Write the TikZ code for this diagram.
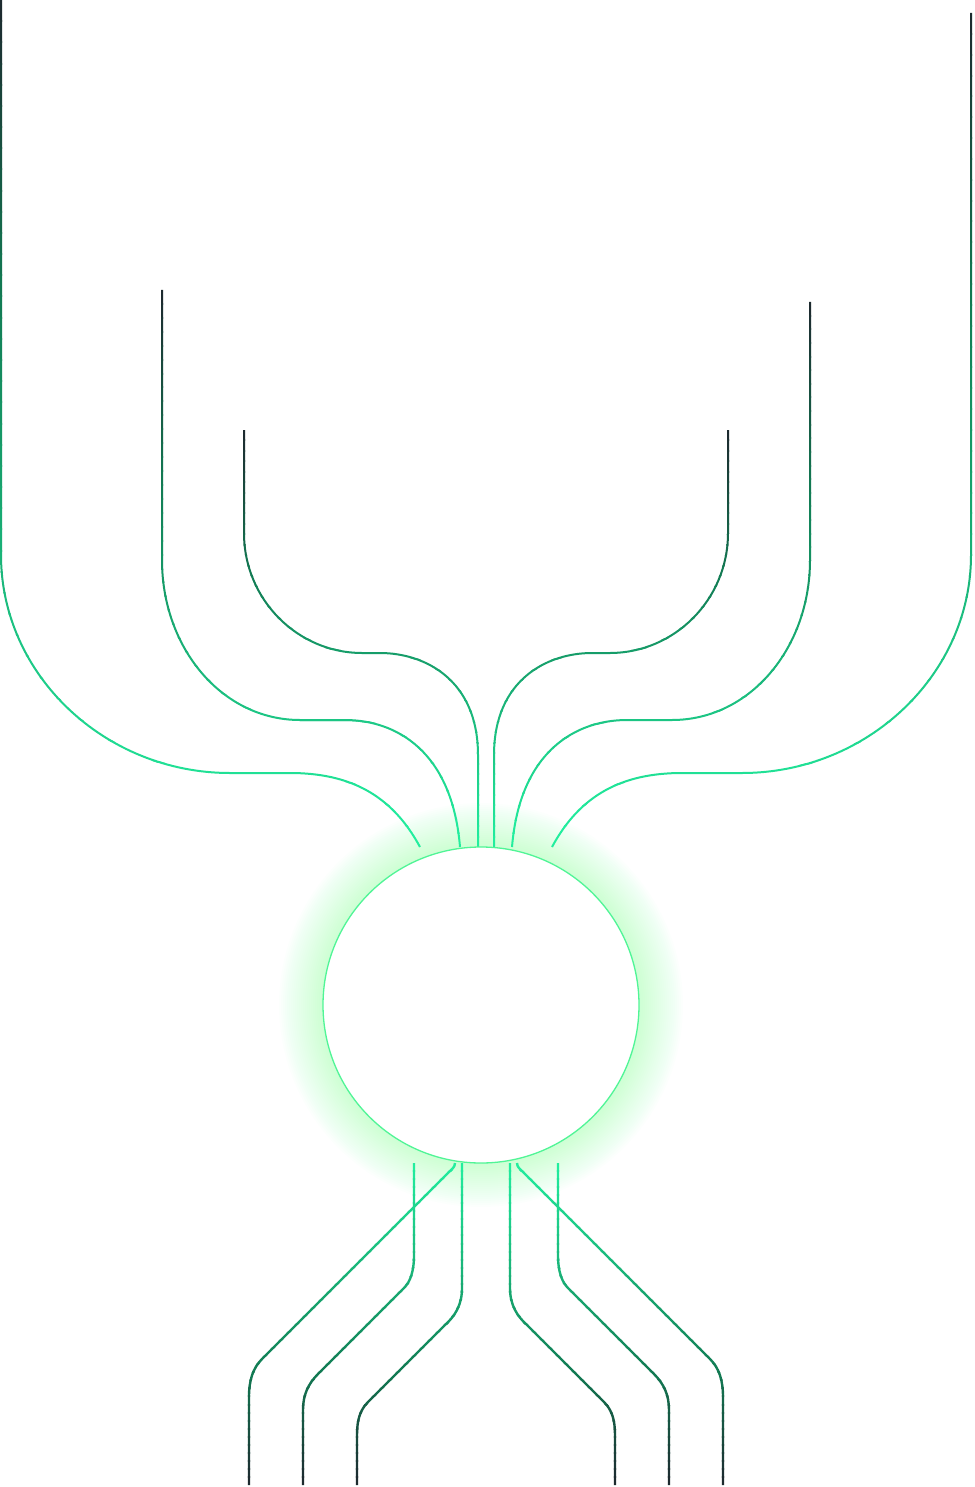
\documentclass[tikz,border=0pt]{standalone}
\usepackage{tikz}

% one wire, shaded along y in strips: #1 top y, #2 bottom y, #3 0 = dark on top / 1 = dark below, #4 the path
\newcommand\wire[4]{%
  \foreach \k in {0,...,39}{%
    \pgfmathsetmacro\wya{#1+(#2-#1)/40*\k-0.5}%
    \pgfmathsetmacro\wyb{#1+(#2-#1)/40*(\k+1)+0.5}%
    \pgfmathsetmacro\wt{abs(#3-(\k+0.5)/40)}%
    \pgfmathtruncatemacro\wa{min(100,100*\wt/0.35)}%
    \pgfmathtruncatemacro\wb{max(0,100*(\wt-0.35)/0.65)}%
    \colorlet{wiretmp}{wiremid!\wa!wiredark}%
    \colorlet{wirecol}{wirebright!\wb!wiretmp}%
    \begin{scope}
      \clip (-10,\wya) rectangle (990,\wyb);
      \draw[wire, wirecol] #4;
    \end{scope}
  }}

\tikzset{
  wire/.style={line width=2pt, line cap=butt},
  hub/.style={circle, draw=hubgreen, line width=1.3pt, fill=white, inner sep=0pt, minimum size=316pt},
}

\begin{document}
\begin{tikzpicture}[x=1pt, y=-1pt]
\definecolor{wiredark}{RGB}{29,40,46}
\definecolor{wiremid}{RGB}{18,124,84}
\definecolor{wirebright}{RGB}{34,240,160}
\definecolor{hubgreen}{RGB}{80,245,150}
\definecolor{glowgreen}{RGB}{70,255,130}
\useasboundingbox (0,0) rectangle (974,1487);
\fill[white] (0,0) rectangle (974,1487);

\coordinate (hubc) at (481,1005);
% glow
\foreach \r in {160,162,...,202}
  \fill[glowgreen, opacity=0.011] (hubc) circle (\r);

% upper wires, left
\wire{0}{847}{0}{(1,0) -- (1,555) .. controls (1,675) and (105,773) .. (230,773) -- (290,773) .. controls (350,773) and (392,795) .. (420,847)}
\wire{290}{847}{0}{(162,290) -- (162,560) .. controls (162,648) and (222,720) .. (300,720) -- (345,720) .. controls (395,720) and (452,750) .. (460,847)}
\wire{430}{847}{0}{(244,430) -- (244,533) .. controls (244,600) and (298,653) .. (362,653) -- (380,653) .. controls (425,653) and (478,680) .. (478,755) -- (478,847)}
% upper wires, right
\wire{13}{847}{0}{(971,13) -- (971,555) .. controls (971,675) and (867,773) .. (742,773) -- (682,773) .. controls (622,773) and (580,795) .. (552,847)}
\wire{302}{847}{0}{(810,302) -- (810,560) .. controls (810,648) and (750,720) .. (672,720) -- (627,720) .. controls (577,720) and (520,750) .. (512,847)}
\wire{430}{847}{0}{(728,430) -- (728,533) .. controls (728,600) and (674,653) .. (610,653) -- (592,653) .. controls (547,653) and (494,680) .. (494,755) -- (494,847)}

% lower wires
\begin{scope}
\tikzset{wire/.style={line width=2.4pt, line cap=butt}}
\wire{1163}{1485}{1}{(455,1163) .. controls (455,1167) and (452,1169) .. (449,1172) -- (262,1359) .. controls (253,1368) and (249,1380) .. (249,1397) -- (249,1485)}
\wire{1163}{1485}{1}{(414,1163) -- (414,1255) .. controls (414,1272) and (410,1282) .. (404,1288) -- (318,1374) .. controls (308,1384) and (303,1395) .. (303,1410) -- (303,1485)}
\wire{1163}{1485}{1}{(462,1163) -- (462,1288) .. controls (462,1305) and (455,1316) .. (445,1325) -- (368,1402) .. controls (360,1410) and (357,1420) .. (357,1435) -- (357,1485)}
\wire{1163}{1485}{1}{(510,1163) -- (510,1288) .. controls (510,1305) and (517,1316) .. (527,1325) -- (604,1402) .. controls (612,1410) and (615,1420) .. (615,1435) -- (615,1485)}
\wire{1163}{1485}{1}{(558,1163) -- (558,1255) .. controls (558,1272) and (562,1282) .. (568,1288) -- (654,1374) .. controls (664,1384) and (669,1395) .. (669,1410) -- (669,1485)}
\wire{1163}{1485}{1}{(517,1163) .. controls (517,1167) and (520,1169) .. (523,1172) -- (710,1359) .. controls (719,1368) and (723,1380) .. (723,1397) -- (723,1485)}
\end{scope}

\node[hub] (hub) at (hubc) {};
\end{tikzpicture}
\end{document}
